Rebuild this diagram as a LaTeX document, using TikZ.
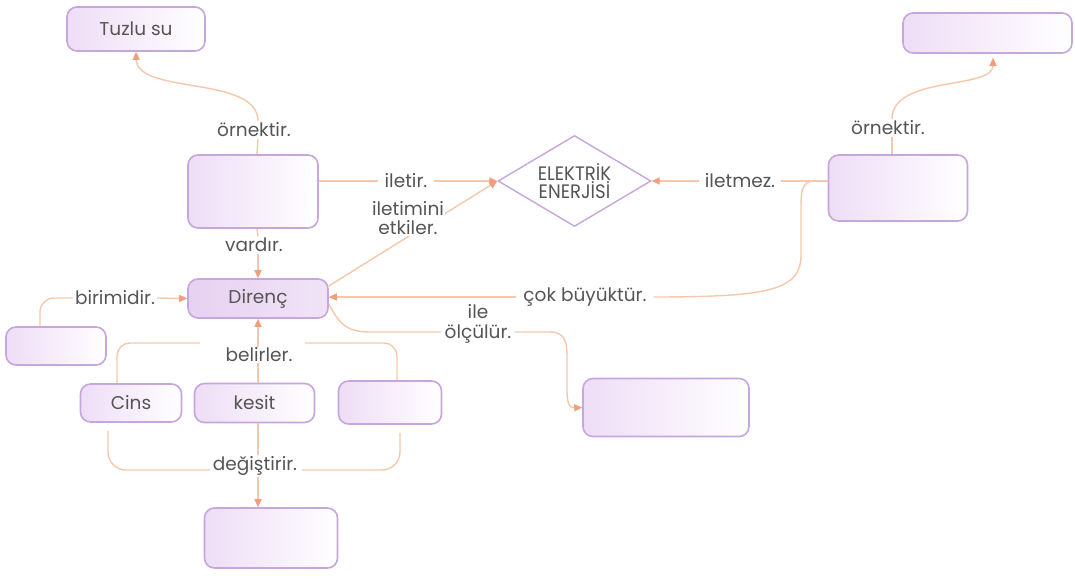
\documentclass[tikz,border=0pt]{standalone}
\usepackage{fontspec}
\setmainfont{Poppins}
\newfontfamily\condfont[FakeStretch=0.93]{Poppins}
\usetikzlibrary{shapes.geometric,arrows.meta,calc}
\definecolor{boxline}{HTML}{C6A6DC}
\definecolor{boxfill}{HTML}{EEDDF6}
\definecolor{dirfill}{HTML}{E7D1F1}
\definecolor{lineclr}{HTML}{F5C8AC}
\definecolor{arrclr}{HTML}{F29E7C}
\definecolor{txt}{HTML}{555555}
\tikzset{
  box/.style={draw=boxline, line width=1.6pt, rounded corners=10pt, left color=boxfill, right color=white, inner sep=0pt, text=txt, font=\fontsize{18.5}{21}\selectfont},
  lab/.style={text=txt, inner xsep=3pt, inner ysep=1.5pt, align=center, font=\fontsize{18.5}{19.5}\selectfont},
  conn/.style={draw=lineclr, line width=1.4pt},
  arr/.style={conn, -{Triangle[length=8pt,width=7pt,color=arrclr]}},
}
\begin{document}
\begin{tikzpicture}[x=1pt,y=-1pt]
\fill[white] (0,0) rectangle (1075,578);
\useasboundingbox (0,0) rectangle (1075,578);
% boxes
\node[box, minimum width=138, minimum height=44] (tuzlu) at (136,29) {Tuzlu su};
\node[box, minimum width=169, minimum height=40] (tr) at (987.5,33) {};
\node[box, minimum width=130, minimum height=73] (A) at (253,191.5) {};
\node[diamond, draw=boxline, line width=1.4pt, fill=white, inner sep=0pt, aspect=1.68, minimum width=153, minimum height=91, align=center, text=txt, font=\condfont\fontsize{19.5}{18}\selectfont] (dia) at (574.5,181) {ELEKTRİK\\ENERJİSİ};
\node[box, minimum width=139, minimum height=66] (B) at (898,188) {};
\node[box, left color=dirfill, right color=dirfill!60!white, minimum width=140, minimum height=39] (direnc) at (258,298.5) {Direnç};
\node[box, minimum width=100, minimum height=38] (L) at (56,346) {};
\node[box, minimum width=101, minimum height=38] (cins) at (131,403) {Cins};
\node[box, minimum width=120, minimum height=39] (kesit) at (254.5,403) {kesit};
\node[box, minimum width=103, minimum height=43] (R) at (390,402.5) {};
\node[box, minimum width=133, minimum height=60] (bottom) at (271,538) {};
\node[box, minimum width=166, minimum height=58] (meas) at (666,407.5) {};
% labels
\node[lab] (ork1) at (254,130) {örnektir.};
\node[lab] (ork2) at (888,128) {örnektir.};
\node[lab, inner xsep=6pt] (iletir) at (406,181) {iletir.};
\node[lab, inner xsep=6pt] (iletmez) at (740,181) {iletmez.};
\node[lab, inner xsep=7pt] (cok) at (585,297) {çok büyüktür.};
\node[lab] (var) at (254,245) {vardır.};
\node[lab, inner xsep=2pt] (bir) at (115,298) {birimidir.};
\node[lab] (olc) at (478,324) {ile\\ölçülür.};
% connectors
\draw[conn] ([xshift=4pt]A.north) -- ([xshift=4pt]ork1.south);
\draw[arr] ([xshift=4pt]ork1.north) .. controls (258,75) and (137,95) .. (tuzlu.south);
\draw[conn] ([xshift=-6pt]B.north) -- ([xshift=4pt]ork2.south);
\draw[arr] ([xshift=4pt]ork2.north) .. controls (892,75) and (993,90) .. ([xshift=5.5pt,yshift=-4pt]tr.south);
\draw[conn] (A.east |- iletir) -- (iletir.west);
\draw[arr] (iletir.east) -- (dia.west);
\draw[conn] (B.west |- iletmez) -- (iletmez.east);
\draw[arr] (iletmez.west) -- (dia.east);
\coordinate (j1) at (814,181);
\draw[conn] (j1) .. controls (803,181) and (801,190) .. (801,205) -- (801,255) .. controls (801,290) and (770,297) .. (cok.east);
\draw[arr] (cok.west) -- (direnc.east |- cok);
\draw[arr] (direnc.10) -- (dia.west);
\node[lab, fill=white, inner sep=1pt] (etk) at (408,218) {iletimini\\etkiler.};
\draw[conn] ([xshift=4pt]A.south) -- ([xshift=4pt]var.north);
\draw[arr] ([xshift=4pt]var.south) -- (direnc.north);
\draw[conn, rounded corners=14pt] ([xshift=-16pt]L.north) |- (bir.west);
\draw[arr] (bir.east) -- (direnc.west);
% belirler
\draw[arr] (direnc.south |- kesit.north) -- (direnc.south);
\node[lab, fill=white, inner sep=1pt] (bel) at (259,355) {belirler.};
\coordinate (b1) at (200,343);
\coordinate (b2) at (305,343);
\draw[conn, rounded corners=13pt] ([xshift=-14pt]cins.north) |- (b1);
\draw[conn, rounded corners=13pt] (b2) -| ([xshift=7pt]R.north);
% degistirir
\draw[arr] (direnc.south |- kesit.south) -- (direnc.south |- bottom.north);
\node[lab, fill=white, inner sep=1pt] (deg) at (255,466) {değiştirir.};
\coordinate (d1) at (210,470);
\coordinate (d2) at (302,470);
\draw[conn, rounded corners=18pt] ([xshift=-23pt,yshift=-8pt]cins.south) |- (d1);
\draw[conn, rounded corners=18pt] (d2) -| ([xshift=10pt,yshift=-8pt]R.south);
% olculur
\draw[conn] ([yshift=-5pt]direnc.east) .. controls (338,322) and (345,332) .. (370,332) -- ([yshift=-8pt]olc.west);
\draw[arr] ([yshift=-8pt]olc.east) -- (550,332) .. controls (567,332) and (567,345) .. (567,360) -- (567,390) .. controls (567,405) and (570,408) .. (meas.west);
\end{tikzpicture}
\end{document}
